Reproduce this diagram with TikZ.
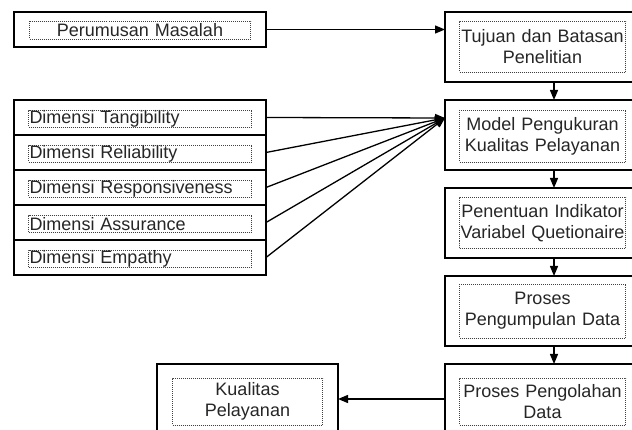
\documentclass[tikz,border=0pt]{standalone}
\usepackage{fontspec}
\setmainfont{Liberation Sans}
\usetikzlibrary{positioning,calc,arrows.meta}

\begin{document}
\begin{tikzpicture}[x=1pt,y=-1pt,font=\fontsize{18}{21}\selectfont,
	block/.style={draw, line width=1.4pt, minimum width=218pt, minimum height=70pt, inner sep=0pt, outer sep=0pt},
	rowbox/.style={draw, line width=1.4pt, minimum width=252pt, minimum height=35pt, inner sep=0pt, outer sep=0pt},
	dotbox/.style={draw=black!75, line width=0.8pt, dash pattern=on 1pt off 1pt, inner xsep=0pt, inner ysep=0pt, align=center, text=black!85},
	dimbox/.style={dotbox, text width=221pt, inner xsep=1pt, minimum height=17pt, align=left},
	link/.style={line width=1.3pt, -{Triangle[length=10pt,width=8pt]}}]

\path[fill=white, use as bounding box] (0,0) rectangle (632,430);

%--kotak Perumusan Masalah
\node[rowbox] (masalahbox) at (140,29.5) {};
\node[dotbox, text width=221pt, minimum height=18pt] (masalah) at ([yshift=-0.5pt]masalahbox.center) {Perumusan Masalah};

%--kolom kanan
\node[block] (tujuanbox) at (554,47) {};
\node[dotbox, text width=166pt, minimum height=51pt] (tujuan) at ([xshift=-11.5pt]tujuanbox.center)
	{Tujuan dan Batasan\\Penelitian};

\node[block, below=18pt of tujuanbox] (modelbox) {};
\node[dotbox, text width=166pt, minimum height=52pt] (model) at ([xshift=-11.5pt,yshift=-1pt]modelbox.center)
	{Model Pengukuran\\Kualitas Pelayanan};

\node[block, below=18pt of modelbox] (penentuanbox) {};
\node[dotbox, text width=166pt, minimum height=51pt] (penentuan) at ([xshift=-11.5pt]penentuanbox.center)
	{Penentuan Indikator\\Variabel Quetionaire};

\node[block, below=18pt of penentuanbox] (pengumpulanbox) {};
\node[dotbox, text width=166pt, minimum height=54pt] (pengumpulan) at ([xshift=-11.5pt]pengumpulanbox.center)
	{Proses\\Pengumpulan Data};

\node[block, below=18pt of pengumpulanbox] (pengolahanbox) {};
\node[dotbox, text width=166pt, minimum height=47pt] (pengolahan) at ([xshift=-11.5pt,yshift=-2.5pt]pengolahanbox.center)
	{Proses Pengolahan\\Data};

%--kotak Kualitas Pelayanan
\node[block, minimum width=181pt, left=107pt of pengolahanbox] (kualitasbox) {};
\node[dotbox, text width=150pt, minimum height=47pt] (kualitas) at ([yshift=-2.5pt]kualitasbox.center)
	{Kualitas\\Pelayanan};

%--dimensi kualitas pelayanan
\node[rowbox] (tangiblerow) at (140,117.5) {};
\node[rowbox, below=0pt of tangiblerow] (reliabilityrow) {};
\node[rowbox, below=0pt of reliabilityrow] (responsivenessrow) {};
\node[rowbox, below=0pt of responsivenessrow] (assurancerow) {};
\node[rowbox, below=0pt of assurancerow] (empathyrow) {};

\node[dimbox] (tangible) at ([yshift=-1.5pt]tangiblerow.center) {Dimensi Tangibility};
\node[dimbox] (reliability) at ([yshift=-1.5pt]reliabilityrow.center) {Dimensi Reliability};
\node[dimbox] (responsiveness) at ([yshift=-1.5pt]responsivenessrow.center) {Dimensi Responsiveness};
\node[dimbox] (assurance) at ([yshift=-1.5pt]assurancerow.center) {Dimensi Assurance};
\node[dimbox] (empathy) at ([yshift=-1.5pt]empathyrow.center) {Dimensi Empathy};

%--panah
\draw[link] (masalahbox.east) -- (masalahbox.east -| tujuanbox.west);
\draw[link] (tujuanbox.south) -- (modelbox.north);
\draw[link] (modelbox.south) -- (penentuanbox.north);
\draw[link] (penentuanbox.south) -- (pengumpulanbox.north);
\draw[link] (pengumpulanbox.south) -- (pengolahanbox.north);
\draw[link] (pengolahanbox.west) -- (kualitasbox.east);

\coordinate (hub) at ([yshift=17pt]modelbox.west);
\foreach \row in {tangiblerow,reliabilityrow,responsivenessrow,assurancerow,empathyrow}
	\draw[link] (\row.east) -- (hub);

\end{tikzpicture}
\end{document}
